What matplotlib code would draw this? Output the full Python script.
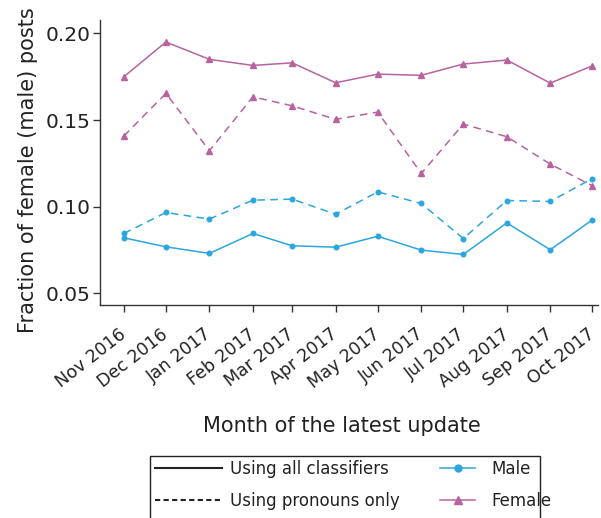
import numpy as np
import pandas as pd
import matplotlib
matplotlib.use("Agg")
import matplotlib.pyplot as plt
from matplotlib.lines import Line2D
from matplotlib.patches import Rectangle

plt.rcParams['font.family'] = ['DejaVu Sans']

months = ['2016-11', '2016-12', '2017-01', '2017-02', '2017-03', '2017-04',
          '2017-05', '2017-06', '2017-07', '2017-08', '2017-09', '2017-10']
month_labels = ['Nov 2016', 'Dec 2016', 'Jan 2017', 'Feb 2017', 'Mar 2017', 'Apr 2017',
                'May 2017', 'Jun 2017', 'Jul 2017', 'Aug 2017', 'Sep 2017', 'Oct 2017']

female_all = [0.175, 0.195, 0.185, 0.1815, 0.183, 0.1715, 0.1765, 0.1758, 0.1823, 0.1846, 0.1713, 0.1813]
female_pron = [0.1408, 0.1654, 0.1323, 0.1634, 0.1582, 0.1504, 0.1546, 0.1192, 0.1477, 0.1404, 0.1246, 0.1121]
male_all = [0.0821, 0.0769, 0.0731, 0.0846, 0.0775, 0.0767, 0.0830, 0.0750, 0.0725, 0.0907, 0.0752, 0.0925]
male_pron = [0.0846, 0.0967, 0.0929, 0.1038, 0.1044, 0.0957, 0.1086, 0.1019, 0.0817, 0.1036, 0.1031, 0.1163]

blue = '#2ba6de'
pink = '#b8639f'
ink = '#222222'
dash = (0, (5, 3.5))

dates = pd.to_datetime(months)

fig = plt.figure(figsize=(6.01, 5.18), dpi=100)
ax = fig.add_axes([0.1664, 0.411, 0.8286, 0.5504])

ax.plot(dates, female_all, color=pink, lw=1.1, marker='^', ms=4.5)
ax.plot(dates, female_pron, color=pink, lw=1.1, ls=dash, marker='^', ms=4.5)
ax.plot(dates, male_all, color=blue, lw=1.1, marker='o', ms=3.3)
ax.plot(dates, male_pron, color=blue, lw=1.1, ls=dash, marker='o', ms=3.3)

ax.set_xlim(dates[0] - pd.Timedelta(days=17), dates[-1] + pd.Timedelta(days=4))
ax.set_ylim(0.0433, 0.2077)
ax.set_xticks(dates)
ax.set_xticklabels(month_labels, rotation=38, ha='right', va='center',
                   rotation_mode='anchor', fontsize=12.5)
ax.set_yticks([0.05, 0.10, 0.15, 0.20])
ax.set_yticklabels(['0.05', '0.10', '0.15', '0.20'], fontsize=14.5)
ax.tick_params(direction='out', length=5, width=1, color='#333333', labelcolor=ink)
ax.tick_params(axis='x', pad=14.5)
ax.tick_params(axis='y', pad=1.5)

for side in ['top', 'right']:
    ax.spines[side].set_visible(False)
for side in ['left', 'bottom']:
    ax.spines[side].set_color('#333333')
    ax.spines[side].set_linewidth(1.0)

ax.set_ylabel('Fraction of female (male) posts', fontsize=15, color=ink)
ax.yaxis.set_label_coords(-0.124, 0.474)
ax.set_xlabel('Month of the latest update', fontsize=15, color=ink)
ax.xaxis.set_label_coords(0.485, -0.39)

# legend: open-bottomed frame plus two borderless legends side by side
fig.patches.append(Rectangle((150 / 601, -0.05), 390 / 601, 0.05 + 62 / 518,
                             transform=fig.transFigure, fill=False, ec=ink, lw=1.0))
style_handles = [Line2D([], [], color=ink, lw=1.5),
                 Line2D([], [], color=ink, lw=1.5, ls=(0, (2.5, 1.6)))]
leg1 = fig.legend(style_handles, ['Using all classifiers', 'Using pronouns only'],
                  loc='upper left', bbox_to_anchor=(155 / 601, 1 - 460 / 518),
                  frameon=False, fontsize=12, handlelength=4.0, handletextpad=0.5,
                  labelspacing=0.85, borderpad=0, borderaxespad=0)
group_handles = [Line2D([], [], color=blue, lw=1.1, marker='o', ms=5),
                 Line2D([], [], color=pink, lw=1.1, marker='^', ms=6)]
leg2 = fig.legend(group_handles, ['Male', 'Female'],
                  loc='upper left', bbox_to_anchor=(440 / 601, 1 - 460 / 518),
                  frameon=False, fontsize=12, handlelength=2.1, handletextpad=1.0,
                  labelspacing=0.85, borderpad=0, borderaxespad=0)
for leg in (leg1, leg2):
    for t in leg.get_texts():
        t.set_color(ink)

fig.savefig('out.png', dpi=100)
